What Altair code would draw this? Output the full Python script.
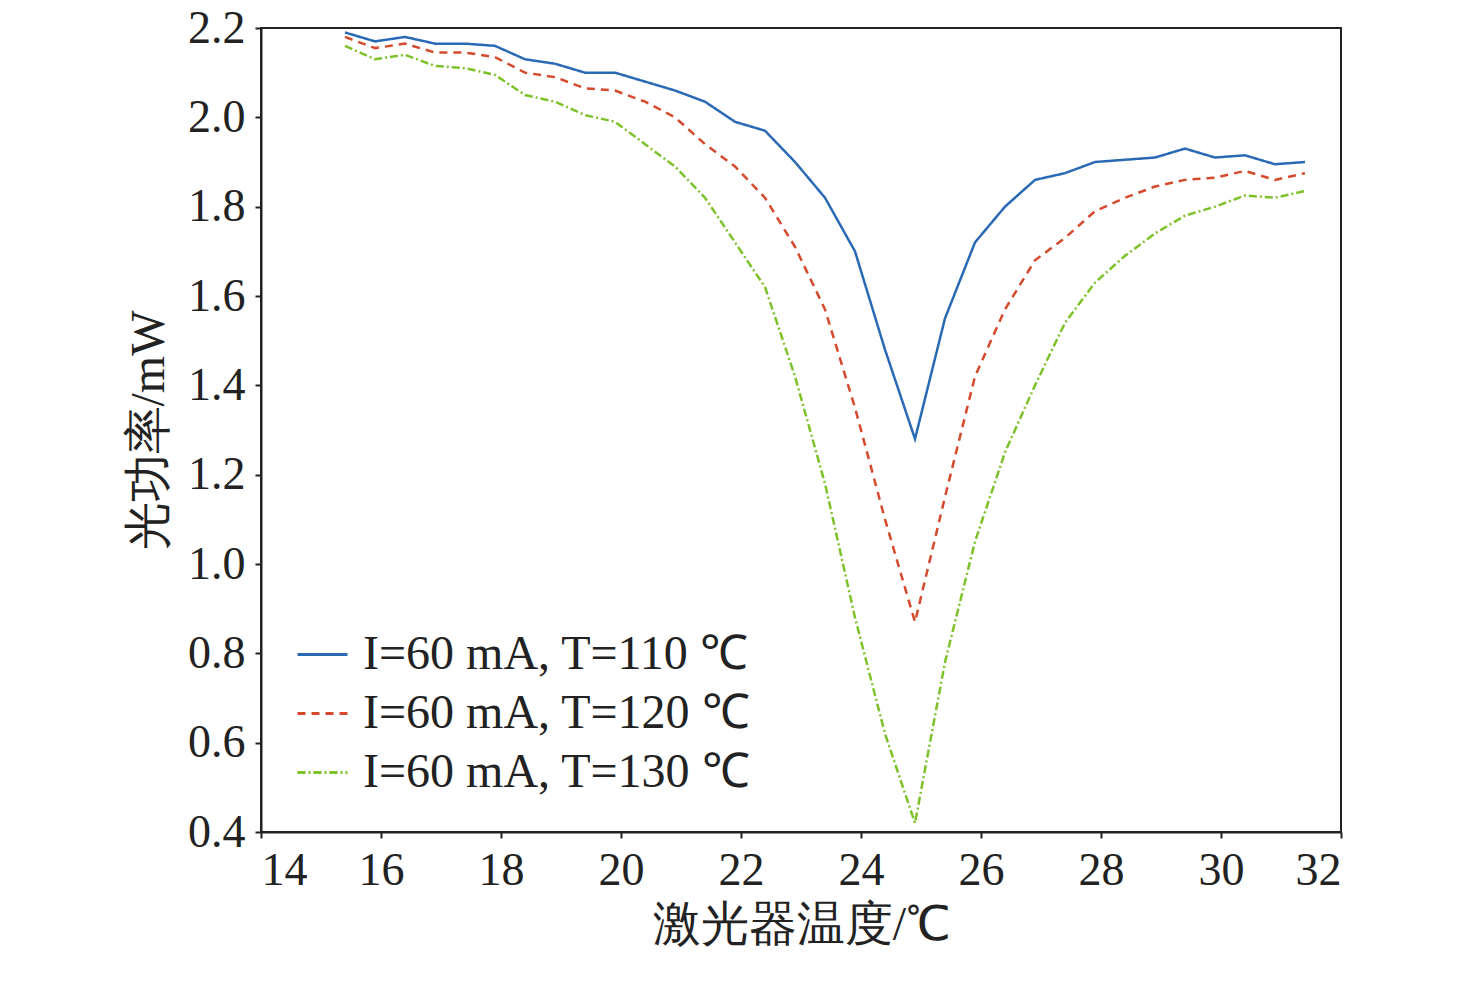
import altair as alt
import pandas as pd

temps = [15.4 + 0.5*i for i in range(33)]
blue = [2.19,2.17,2.18,2.165,2.165,2.16,2.13,2.12,2.10,2.10,2.08,2.06,2.035,1.99,1.97,1.90,1.82,1.70,1.48,1.28,1.55,1.72,1.80,1.86,1.875,1.90,1.905,1.91,1.93,1.91,1.915,1.895,1.90]
red = [2.18,2.155,2.165,2.145,2.145,2.135,2.10,2.09,2.065,2.06,2.035,2.00,1.94,1.89,1.82,1.71,1.57,1.35,1.10,0.87,1.15,1.42,1.57,1.68,1.73,1.79,1.82,1.845,1.86,1.865,1.88,1.86,1.875]
green = [2.16,2.13,2.14,2.115,2.11,2.095,2.05,2.035,2.005,1.99,1.94,1.89,1.82,1.72,1.62,1.42,1.18,0.88,0.62,0.42,0.78,1.05,1.25,1.40,1.54,1.63,1.69,1.74,1.78,1.80,1.825,1.82,1.835]
labels = ["I=60 mA, T=110 ℃", "I=60 mA, T=120 ℃", "I=60 mA, T=130 ℃"]
colors = ["#2a6ab5", "#d5492c", "#7dc22a"]
dashes = [[1, 0], [8, 6], [8, 3, 2, 3]]

rows = []
for lab, ser in zip(labels, [blue, red, green]):
    for t, v in zip(temps, ser):
        rows.append({"t": t, "p": v, "s": lab})
df = pd.DataFrame(rows)

font = "Liberation Serif"

base = alt.Chart(df).mark_line(strokeWidth=2.5).encode(
    x=alt.X("t:Q", scale=alt.Scale(domain=[14, 32], nice=False),
            axis=alt.Axis(title="激光器温度/℃", values=list(range(14, 33, 2)), format="d")),
    y=alt.Y("p:Q", scale=alt.Scale(domain=[0.4, 2.2], nice=False, zero=False),
            axis=alt.Axis(title="光功率/mW", values=[0.4,0.6,0.8,1.0,1.2,1.4,1.6,1.8,2.0,2.2], format=".1f")),
    color=alt.Color("s:N", scale=alt.Scale(domain=labels, range=colors),
                    legend=alt.Legend(title=None, orient="none", legendX=35, legendY=600,
                                      symbolType="stroke", symbolSize=2500, symbolStrokeWidth=3,
                                      labelFontSize=48, labelFont=font, labelColor="#222",
                                      rowPadding=8, labelLimit=700, labelOffset=14)),
    strokeDash=alt.StrokeDash("s:N", scale=alt.Scale(domain=labels, range=dashes), legend=None),
).properties(width=1080, height=804,
             autosize=alt.AutoSizeParams(type="none"),
             padding={"left": 253, "top": 20, "right": 127, "bottom": 150})

chart = base.configure_view(stroke="#222", strokeWidth=2).configure_axis(
    labelFont=font, titleFont=font, labelFontSize=46, titleFontSize=48, labelColor="#222",
    titleColor="#222", titleFontWeight="normal", domainColor="#222", tickColor="#222",
    grid=False, tickSize=6, labelPadding=10, domainWidth=2, tickWidth=2
).configure_axisY(titlePadding=14).configure_axisX(titlePadding=8)

chart.save("out.html", embed_options={"renderer": "svg", "actions": False})
